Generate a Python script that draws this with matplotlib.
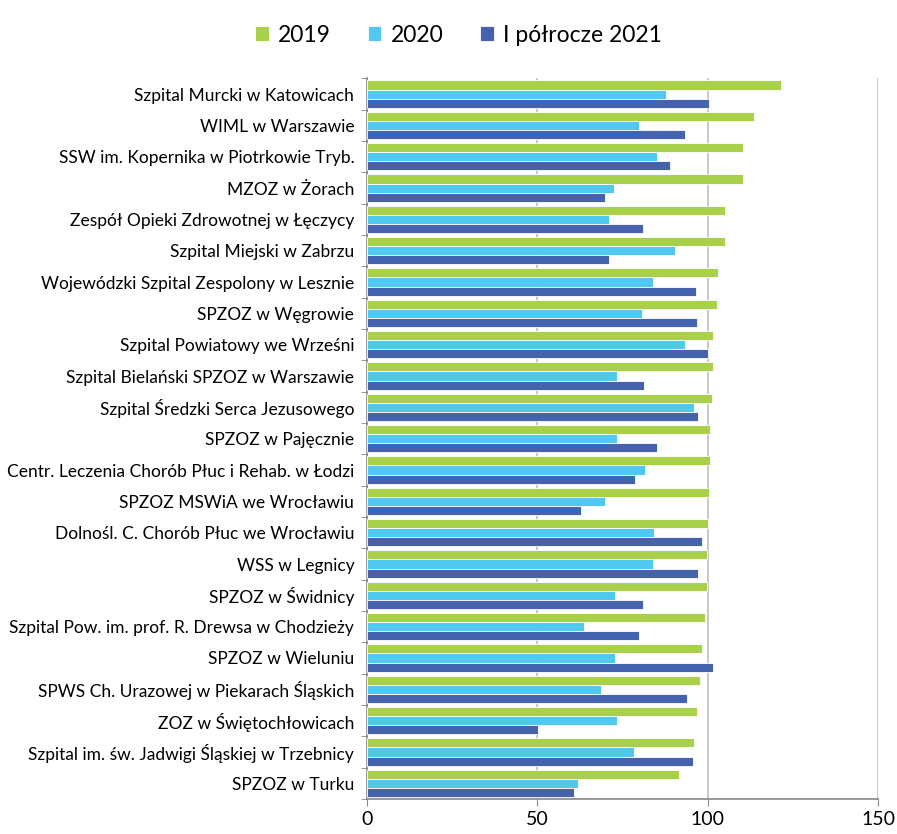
import numpy as np
import matplotlib
matplotlib.use('Agg')
import matplotlib.pyplot as plt
from matplotlib.ticker import FixedLocator

plt.rcParams['font.family'] = ['Lato', 'DejaVu Sans']

categories = [
    'Szpital Murcki w Katowicach',
    'WIML w Warszawie',
    'SSW im. Kopernika w Piotrkowie Tryb.',
    'MZOZ w Żorach',
    'Zespół Opieki Zdrowotnej w Łęczycy',
    'Szpital Miejski w Zabrzu',
    'Wojewódzki Szpital Zespolony w Lesznie',
    'SPZOZ w Węgrowie',
    'Szpital Powiatowy we Wrześni',
    'Szpital Bielański SPZOZ w Warszawie',
    'Szpital Średzki Serca Jezusowego',
    'SPZOZ w Pajęcznie',
    'Centr. Leczenia Chorób Płuc i Rehab. w Łodzi',
    'SPZOZ MSWiA we Wrocławiu',
    'Dolnośl. C. Chorób Płuc we Wrocławiu',
    'WSS w Legnicy',
    'SPZOZ w Świdnicy',
    'Szpital Pow. im. prof. R. Drewsa w Chodzieży',
    'SPZOZ w Wieluniu',
    'SPWS Ch. Urazowej w Piekarach Śląskich',
    'ZOZ w Świętochłowicach',
    'Szpital im. św. Jadwigi Śląskiej w Trzebnicy',
    'SPZOZ w Turku',
]

v2019 = [121.5, 113.5, 110.4, 110.3, 105.1, 105.1, 103.1, 102.7, 101.5, 101.4, 101.2, 100.8,
         100.6, 100.3, 100.0, 99.7, 99.7, 99.2, 98.4, 97.8, 96.9, 96.1, 91.7]
v2020 = [87.8, 79.9, 85.2, 72.6, 70.9, 90.4, 83.8, 80.7, 93.3, 73.5, 95.9, 73.4,
         81.7, 69.8, 84.2, 84.0, 72.9, 63.8, 72.9, 68.6, 73.5, 78.3, 62.0]
v2021 = [100.3, 93.4, 88.8, 70.0, 81.0, 70.9, 96.6, 96.8, 100.1, 81.2, 97.0, 85.2,
         78.8, 62.8, 98.4, 97.2, 81.0, 79.9, 101.4, 93.8, 50.3, 95.6, 60.8]

series_names = ['2019', '2020', 'I półrocze 2021']
colors = ['#A9D04B', '#50C8F0', '#4462AD']

fig = plt.figure(figsize=(8.97, 8.34), dpi=100)
ax = fig.add_axes([0.409, 0.042, 0.570, 0.864])

n = len(categories)
y = np.arange(n)
h = 0.29
for i, (vals, name, c) in enumerate(zip([v2019, v2020, v2021], series_names, colors)):
    ax.barh(y + (i - 1) * h, vals, height=h, color=c, label=name,
            edgecolor='white', linewidth=0.6, zorder=3)

ax.set_ylim(n - 0.5, -0.5)
ax.set_xlim(0, 150)
ax.set_xticks([0, 50, 100, 150])
ax.tick_params(axis='x', labelsize=14, length=5, color='#888888', pad=4)
ax.set_yticks(y)
ax.set_yticklabels(categories, fontsize=12.5)
ax.tick_params(axis='y', length=0, pad=9)
ax.yaxis.set_minor_locator(FixedLocator(np.arange(-0.5, n, 1)))
ax.tick_params(axis='y', which='minor', length=4, color='#888888')

ax.grid(axis='x', color='#BFBFBF', linewidth=1.2, zorder=0)
for s in ['top', 'right']:
    ax.spines[s].set_visible(False)
for s in ['left', 'bottom']:
    ax.spines[s].set_color('#888888')
    ax.spines[s].set_linewidth(1.2)

fig.legend(loc='upper center', bbox_to_anchor=(0.511, 0.995), ncol=3, frameon=False,
           fontsize=16.5, handlelength=0.6, handleheight=0.6, handletextpad=0.4,
           columnspacing=1.6)

fig.savefig('out.png', dpi=100)
